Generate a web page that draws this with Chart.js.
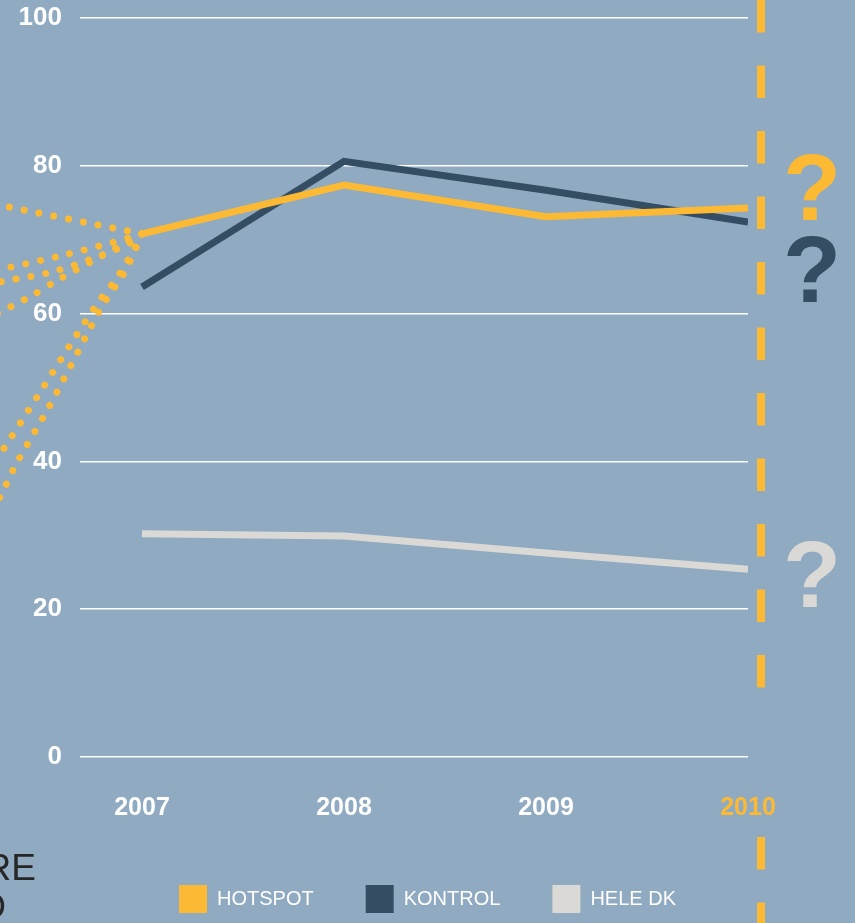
<!DOCTYPE html>
<html>
<head>
<meta charset="utf-8">
<script src="https://cdn.jsdelivr.net/npm/chart.js@4"></script>
<style>
  body { margin: 0; background: #8FAAC1; }
  #wrap { width: 855px; height: 923px; position: relative; }
</style>
</head>
<body>
<div id="wrap"><canvas id="myChart"></canvas></div>
<script>
"use strict";

const years = [2007, 2008, 2009, 2010];
const hotspot = [70.8, 77.4, 73.1, 74.3];
const kontrol = [63.6, 80.6, 76.7, 72.4];
const heleDk = [30.2, 29.9, 27.6, 25.4];
const yTicks = [0, 20, 40, 60, 80, 100];

// dotted trend lines running left from 2007 (year, value)
const trendA = [[2007, 70.8], [2006.2, 75.2]];
const trendB = [[2007, 70.8], [2006.85, 69.6], [2006.61, 67.9], [2006.3, 66.0], [2006.2, 65.5]];
const trendB2 = [[2007, 70.8], [2006.93, 69.4], [2006.78, 67.7], [2006.55, 65.6], [2006.3, 64.3], [2006.2, 63.7]];
const trendC = [[2007, 70.8], [2006.8, 67.8], [2006.58, 64.5], [2006.44, 62.2], [2006.2, 58.9]];
const trendD = [[2007, 70.8], [2006.965, 68.9], [2006.88, 65.0], [2006.78, 61.4], [2006.65, 56.0], [2006.48, 48.7], [2006.31, 41.5], [2006.2, 37.2]];
const trendD2 = [[2007, 70.8], [2006.92, 65.9], [2006.8, 60.9], [2006.69, 55.2], [2006.54, 47.4], [2006.38, 39.8], [2006.31, 35.9], [2006.2, 30.2]];

const yellow = "#FCB934";
const dark = "#344D63";
const grey = "#DAD9D5";

function toPoints(xs, ys) {
  return xs.map((x, i) => ({ x: x, y: ys[i] }));
}

function dotted(pairs) {
  return {
    label: "",
    data: pairs.map(p => ({ x: p[0], y: p[1] })),
    borderColor: yellow,
    borderWidth: 7,
    borderDash: [0.01, 15],
    borderCapStyle: "round",
    pointRadius: 0,
    tension: 0.3,
    clip: false,
  };
}

const extras = {
  id: "extras",
  afterDatasetsDraw(chart) {
    const ctx = chart.ctx;
    const x = chart.scales.x.right + 13;
    ctx.save();
    ctx.strokeStyle = yellow;
    ctx.lineWidth = 8;
    ctx.setLineDash([32.5, 33]);
    ctx.beginPath();
    ctx.moveTo(x, 0);
    ctx.lineTo(x, 700);
    ctx.stroke();
    ctx.beginPath();
    ctx.moveTo(x, 837);
    ctx.lineTo(x, 923);
    ctx.stroke();
    ctx.setLineDash([]);

    ctx.font = "bold 95px 'Liberation Sans'";
    ctx.textAlign = "center";
    ctx.textBaseline = "alphabetic";
    ctx.fillStyle = yellow;
    ctx.fillText("?", 812, 220);
    ctx.fillStyle = dark;
    ctx.fillText("?", 812, 302);
    ctx.fillStyle = grey;
    ctx.fillText("?", 812, 607);

    ctx.fillStyle = "#262626";
    ctx.font = "37px 'Liberation Sans'";
    ctx.textAlign = "right";
    ctx.fillText("RE", 36, 880);
    ctx.fillText("D", 6, 919);
    ctx.restore();
  },
};

const data = {
  datasets: [
    {
      label: "HOTSPOT",
      data: toPoints(years, hotspot),
      borderColor: yellow,
      backgroundColor: yellow,
      borderWidth: 7,
      pointRadius: 0,
    },
    {
      label: "KONTROL",
      data: toPoints(years, kontrol),
      borderColor: dark,
      backgroundColor: dark,
      borderWidth: 7,
      pointRadius: 0,
    },
    {
      label: "HELE DK",
      data: toPoints(years, heleDk),
      borderColor: grey,
      backgroundColor: grey,
      borderWidth: 7,
      pointRadius: 0,
    },
    dotted(trendA),
    dotted(trendB),
    dotted(trendB2),
    dotted(trendC),
    dotted(trendD),
    dotted(trendD2),
  ],
};

Chart.defaults.font.family = "'Liberation Sans', Arial, sans-serif";

const config = {
  type: "line",
  data: data,
  options: {
    responsive: true,
    maintainAspectRatio: false,
    animation: false,
    layout: { padding: { top: 18, right: 0, bottom: 0, left: 0 } },
    plugins: {
      tooltip: { enabled: false },
      legend: {
        position: "bottom",
        labels: {
          boxWidth: 28,
          boxHeight: 28,
          padding: 52,
          color: "#FFFFFF",
          font: { size: 20 },
          filter: item => item.text !== "",
          generateLabels: chart => {
            const items = Chart.defaults.plugins.legend.labels.generateLabels(chart);
            items.forEach(it => { it.lineWidth = 0; });
            return items;
          },
        },
      },
    },
    scales: {
      x: {
        type: "linear",
        min: 2006.693,
        max: 2010,
        grid: { display: false, drawTicks: false },
        border: { display: false },
        afterBuildTicks: scale => {
          scale.ticks = years.map(v => ({ value: v }));
        },
        afterFit: scale => {
          scale.height = 76;
        },
        ticks: {
          padding: 36,
          font: { size: 25, weight: "bold" },
          color: c => (c.tick && c.tick.value === 2010 ? yellow : "#FFFFFF"),
          callback: v => String(v),
        },
      },
      y: {
        min: 0,
        max: 100,
        grid: { color: "#FFFFFF", lineWidth: 1.5, drawTicks: false },
        border: { display: false },
        afterBuildTicks: scale => {
          scale.ticks = yTicks.map(v => ({ value: v }));
        },
        afterFit: scale => {
          scale.width = 80;
          scale.paddingTop = 0;
          scale.paddingBottom = 0;
        },
        ticks: {
          padding: 18,
          font: { size: 26, weight: "bold" },
          color: "#FFFFFF",
        },
      },
      yRight: {
        position: "right",
        display: true,
        min: 0,
        max: 100,
        grid: { display: false, drawTicks: false },
        border: { display: false },
        ticks: { display: false },
        afterFit: scale => {
          scale.width = 107;
          scale.paddingTop = 0;
          scale.paddingBottom = 0;
        },
      },
    },
  },
  plugins: [extras],
};

new Chart(document.getElementById("myChart"), config);
</script>
</body>
</html>
